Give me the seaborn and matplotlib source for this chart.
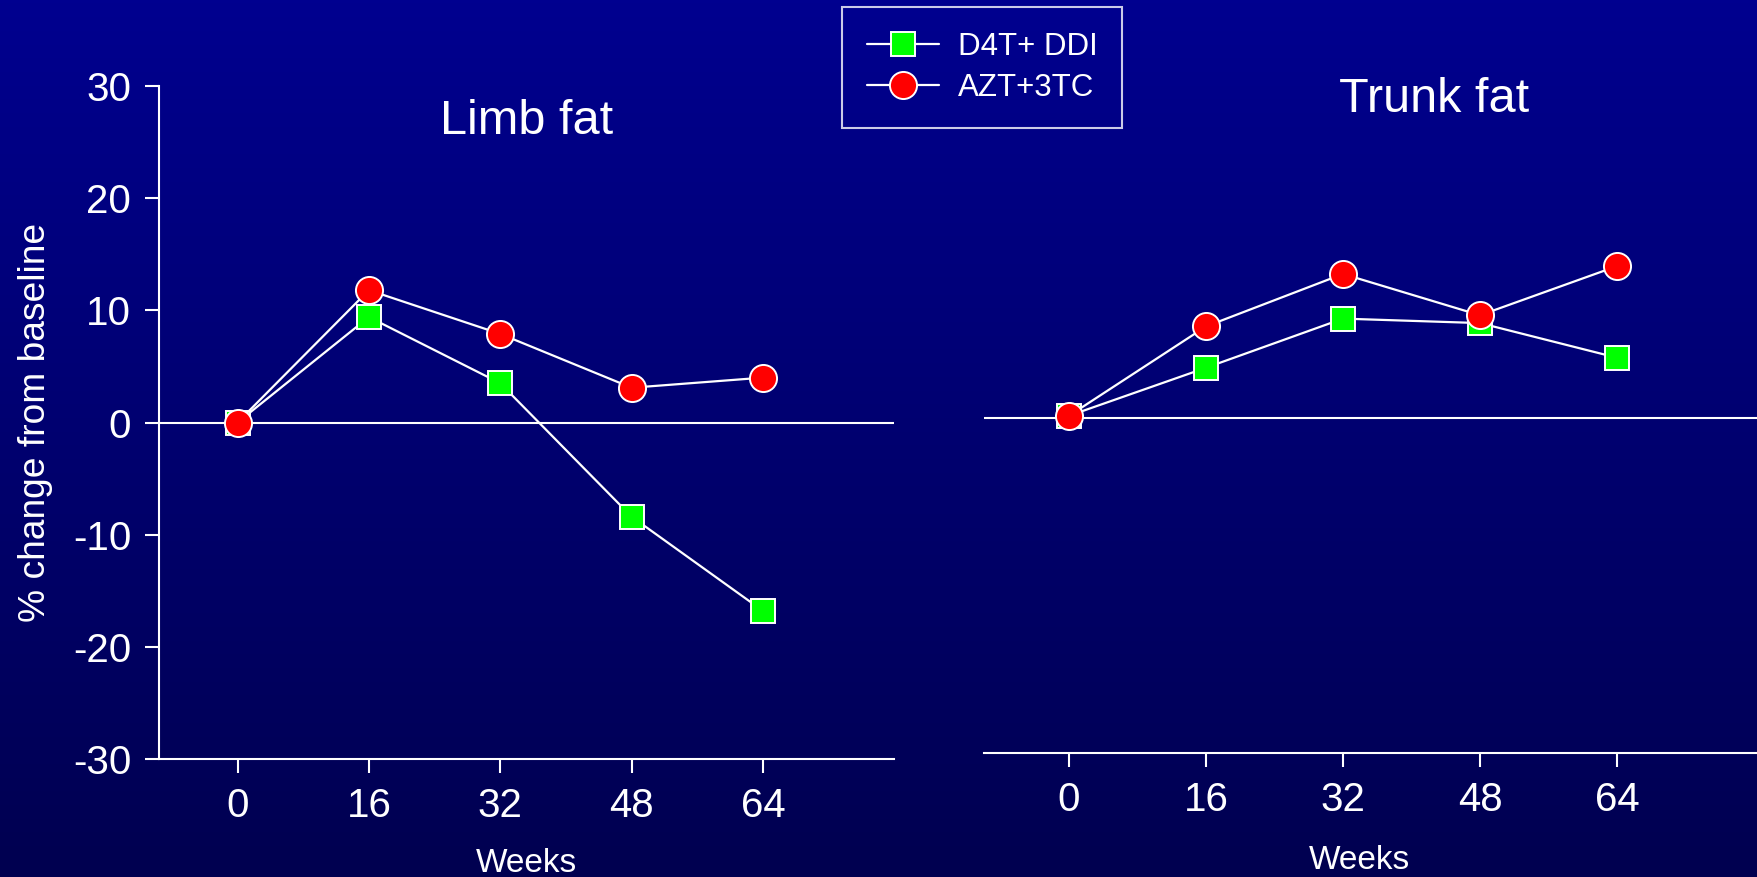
import numpy as np
import pandas as pd
import matplotlib
matplotlib.use("Agg")
import matplotlib.pyplot as plt
from matplotlib.colors import LinearSegmentedColormap
import seaborn as sns

# --- data ---
weeks = [0, 16, 32, 48, 64]
series_names = ["D4T+ DDI", "AZT+3TC"]
limb_d4t = [0.0, 9.4, 3.5, -8.4, -16.8]
limb_azt = [0.0, 11.8, 7.9, 3.1, 4.0]
trunk_d4t = [0.2, 4.5, 8.9, 8.5, 5.4]
trunk_azt = [0.2, 8.2, 12.9, 9.2, 13.6]
y_ticks = [-30, -20, -10, 0, 10, 20, 30]

W, H = 1757, 877
BG_TOP = (0, 0, 143 / 255)
BG_BOT = (0, 0, 80 / 255)
GREEN = "#00ff00"
RED = "#ff0000"
FONT = ["Liberation Sans", "DejaVu Sans"]

sns.set_theme(style="ticks")
plt.rcParams["font.family"] = FONT
plt.rcParams["axes.facecolor"] = "none"


def panel_frame(d4t, azt):
    return pd.DataFrame({
        "week": weeks * 2,
        "change": d4t + azt,
        "group": [series_names[0]] * len(weeks) + [series_names[1]] * len(weeks),
    })


fig = plt.figure(figsize=(W / 100, H / 100), dpi=100)

# gradient background
ax_bg = fig.add_axes([0, 0, 1, 1], zorder=-10)
grad = np.linspace(0, 1, 256).reshape(-1, 1)
cmap = LinearSegmentedColormap.from_list("bg", [BG_TOP, BG_BOT])
ax_bg.imshow(grad, aspect="auto", cmap=cmap, extent=[0, 1, 0, 1])
ax_bg.set_axis_off()

axL = fig.add_axes([159 / W, 1 - 759 / H, (894 - 159) / W, (759 - 86) / H])
axR = fig.add_axes([984 / W, 1 - 753 / H, (W - 984) / W, (753 - 83) / H])

styles = {
    series_names[0]: dict(marker="s", markersize=17.5, markerfacecolor=GREEN),
    series_names[1]: dict(marker="o", markersize=19.5, markerfacecolor=RED),
}

for ax, (d4t, azt), xlim in [
    (axL, (limb_d4t, limb_azt), (-9.56, 79.95)),
    (axR, (trunk_d4t, trunk_azt), (-9.93, 80.35)),
]:
    df = panel_frame(d4t, azt)
    ax.axhline(0, color="white", lw=1.5, zorder=1)
    for name in series_names:
        sub = df[df["group"] == name]
        sns.lineplot(data=sub, x="week", y="change", ax=ax, color="white",
                     linewidth=1.6, markeredgecolor="white", markeredgewidth=1.4,
                     zorder=3, clip_on=False, **styles[name])
    ax.set_xlim(*xlim)
    ax.set_ylim(-30, 30)
    ax.set_xticks(weeks)
    ax.set_xticklabels([str(w) for w in weeks])
    ax.set_xlabel("Weeks", color="white", fontsize=24, labelpad=17)
    for s in ["top", "right"]:
        ax.spines[s].set_visible(False)
    ax.spines["bottom"].set_color("white")
    ax.spines["bottom"].set_linewidth(1.5)
    ax.tick_params(axis="both", colors="white", width=1.5, length=10,
                   labelsize=29, pad=10)
    ax.grid(False)

axL.set_yticks(y_ticks)
axL.set_yticklabels([str(v) for v in y_ticks])
axL.spines["left"].set_color("white")
axL.spines["left"].set_linewidth(1.5)
axL.set_ylabel("% change from baseline", color="white", fontsize=26.7, labelpad=14)

axR.spines["left"].set_visible(False)
axR.set_yticks([])
axR.set_ylabel("")
axR.xaxis.set_label_coords((1359 - 984) / (W - 984), -0.138)

fig.text(527 / W, 1 - 121 / H, "Limb fat", color="white", fontsize=35,
         ha="center", va="center")
fig.text(1434 / W, 1 - 99 / H, "Trunk fat", color="white", fontsize=35,
         ha="center", va="center")

# legend
handles = [
    plt.Line2D([], [], color="white", lw=1.6, markeredgecolor="white",
               markeredgewidth=1.4, **styles[n]) for n in series_names
]
leg = fig.legend(handles, series_names, loc="upper left",
                 bbox_to_anchor=(842 / W, 1 - 7 / H), borderaxespad=0,
                 frameon=True, fancybox=False, fontsize=22.5,
                 handlelength=2.3, handletextpad=0.6, labelspacing=0.36,
                 borderpad=0.8)
frame = leg.get_frame()
frame.set_facecolor("none")
frame.set_edgecolor("white")
frame.set_linewidth(1.5)
for t in leg.get_texts():
    t.set_color("white")

fig.savefig("out.png", dpi=100)
